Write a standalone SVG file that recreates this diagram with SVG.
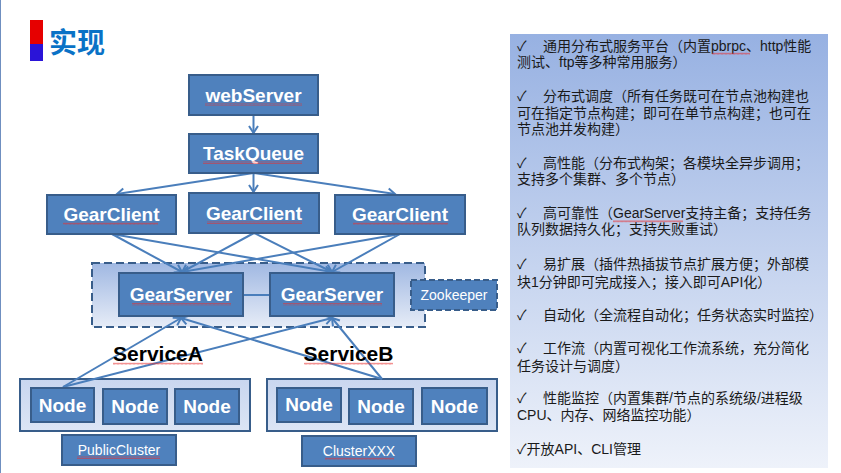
<svg xmlns="http://www.w3.org/2000/svg" width="841" height="473" viewBox="0 0 841 473">
<defs>
  <linearGradient id="gPanel" x1="0" y1="0" x2="0" y2="1">
    <stop offset="0" stop-color="#97B1E2"/>
    <stop offset="1" stop-color="#EEF2FA"/>
  </linearGradient>
  <linearGradient id="gGroup" x1="0" y1="0" x2="0" y2="1">
    <stop offset="0" stop-color="#A0B8E2"/>
    <stop offset="1" stop-color="#E6ECF7"/>
  </linearGradient>
  <linearGradient id="gCluster" x1="0" y1="0" x2="0" y2="1">
    <stop offset="0" stop-color="#C9D6EF"/>
    <stop offset="1" stop-color="#DCE5F5"/>
  </linearGradient>
  <pattern id="squig" width="4" height="2.5" patternUnits="userSpaceOnUse">
    <path d="M0,2 L1,0.5 L2,2 L3,0.5 L4,2" fill="none" stroke="#E83030" stroke-width="0.6"/>
  </pattern>
  <marker id="arr" markerWidth="12" markerHeight="12" refX="9" refY="6" orient="auto" markerUnits="userSpaceOnUse">
    <path d="M2,1.5 L9,6 L2,10.5" fill="none" stroke="#4A7EBB" stroke-width="2"/>
  </marker>
</defs>
<style>
  .box { fill: #4F81BD; stroke: #385D8A; stroke-width: 2; }
  .lbl { font-family: "Liberation Sans", Arial, sans-serif; font-weight: bold; font-size: 19px; fill: #FFFFFF; text-anchor: middle; }
  .small { font-family: "Liberation Sans", Arial, sans-serif; font-size: 14px; fill: #FFFFFF; text-anchor: middle; }
  .svc { font-family: "Liberation Sans", Arial, sans-serif; font-weight: bold; font-size: 21px; fill: #000000; text-anchor: middle; }
  .conn { stroke: #4A7EBB; stroke-width: 2; fill: none; }
  .arrow { marker-end: url(#arr); }
  .sq { fill: url(#squig); }
  .ptxt { font-family: "Liberation Sans", "Noto Sans CJK SC", sans-serif; font-size: 14px; fill: #1A1A1A; }
</style>

<rect width="841" height="473" fill="#FFFFFF"/>
<line x1="0.5" y1="0" x2="0.5" y2="473" stroke="#6F8FC0" stroke-width="1"/>

<g id="title">
  <rect x="30" y="20" width="13" height="24" fill="#E60000"/>
  <rect x="30" y="44" width="13" height="17" fill="#2A14D8"/>
  <text x="49" y="53" font-family="Noto Sans CJK SC, sans-serif" font-weight="bold" font-size="28" fill="#0A72C6">实现</text>
</g>

<g id="group-gearserver">
  <rect x="92" y="263" width="333" height="64" fill="url(#gGroup)" stroke="#385D8A" stroke-width="2" stroke-dasharray="8,4"/>
</g>
<g id="cluster-public">
  <rect x="20" y="379" width="230" height="52" fill="url(#gCluster)" stroke="#385D8A" stroke-width="2"/>
</g>
<g id="cluster-xxx">
  <rect x="267" y="379" width="230" height="52" fill="url(#gCluster)" stroke="#385D8A" stroke-width="2"/>
</g>

<g id="connectors">
  <line class="conn arrow" x1="253.5" y1="115" x2="253.5" y2="133"/>
  <line class="conn arrow" x1="253.5" y1="173" x2="253.5" y2="192"/>
  <line class="conn arrow" x1="253.5" y1="173" x2="117" y2="194"/>
  <line class="conn arrow" x1="253.5" y1="173" x2="395" y2="194"/>
  <line class="conn arrow" x1="112" y1="234" x2="182" y2="272"/>
  <line class="conn arrow" x1="112" y1="234" x2="332" y2="272"/>
  <line class="conn arrow" x1="254" y1="233" x2="182" y2="272"/>
  <line class="conn arrow" x1="254" y1="233" x2="332" y2="272"/>
  <line class="conn arrow" x1="400" y1="234" x2="182" y2="272"/>
  <line class="conn arrow" x1="400" y1="234" x2="332" y2="272"/>
  <line class="conn" x1="243" y1="295" x2="270" y2="295"/>
  <line class="conn arrow" x1="63" y1="387" x2="181" y2="318"/>
  <line class="conn arrow" x1="63" y1="387" x2="332" y2="318"/>
  <line class="conn arrow" x1="382" y1="379" x2="181" y2="318"/>
  <line class="conn arrow" x1="382" y1="379" x2="332" y2="318"/>
</g>

<g id="webServer">
  <rect class="box" x="189" y="75" width="129" height="40"/>
  <text class="lbl" x="253.5" y="102">webServer</text>
  <rect class="sq" x="205" y="103.5" width="97" height="2.5"/>
</g>
<g id="TaskQueue">
  <rect class="box" x="189" y="134" width="129" height="39"/>
  <text class="lbl" x="253.5" y="160">TaskQueue</text>
  <rect class="sq" x="203" y="161.5" width="99" height="2.5"/>
</g>
<g id="GearClient1">
  <rect class="box" x="47" y="195" width="129" height="39"/>
  <text class="lbl" x="111.5" y="221">GearClient</text>
  <rect class="sq" x="63" y="222.5" width="95" height="2.5"/>
</g>
<g id="GearClient2">
  <rect class="box" x="189" y="193" width="130" height="40"/>
  <text class="lbl" x="254" y="220">GearClient</text>
  <rect class="sq" x="207" y="221.5" width="95" height="2.5"/>
</g>
<g id="GearClient3">
  <rect class="box" x="335" y="195" width="130" height="39"/>
  <text class="lbl" x="400" y="221">GearClient</text>
  <rect class="sq" x="353" y="222.5" width="95" height="2.5"/>
</g>
<g id="GearServer1">
  <rect class="box" x="119" y="273" width="124" height="43"/>
  <text class="lbl" x="181" y="301">GearServer</text>
  <rect class="sq" x="132" y="303" width="99" height="2.5"/>
</g>
<g id="GearServer2">
  <rect class="box" x="270" y="273" width="124" height="43"/>
  <text class="lbl" x="332" y="301">GearServer</text>
  <rect class="sq" x="283" y="303" width="99" height="2.5"/>
</g>
<g id="Zookeeper">
  <rect x="411" y="280" width="86" height="30" fill="#4F81BD" stroke="#385D8A" stroke-width="2" stroke-dasharray="6,3"/>
  <text class="small" x="454" y="300">Zookeeper</text>
</g>

<g id="ServiceA">
  <text class="svc" x="158" y="361">ServiceA</text>
  <rect class="sq" x="113" y="362.5" width="90" height="2.5"/>
</g>
<g id="ServiceB">
  <text class="svc" x="348.5" y="361">ServiceB</text>
  <rect class="sq" x="304" y="362.5" width="89" height="2.5"/>
</g>

<g id="NodeA1"><rect class="box" x="31" y="388" width="63" height="34"/><text class="lbl" x="62.5" y="412">Node</text></g>
<g id="NodeA2"><rect class="box" x="103" y="389" width="64" height="35"/><text class="lbl" x="135" y="413">Node</text></g>
<g id="NodeA3"><rect class="box" x="175" y="389" width="64" height="35"/><text class="lbl" x="207" y="413">Node</text></g>
<g id="NodeB1"><rect class="box" x="277" y="388" width="64" height="34"/><text class="lbl" x="309" y="411">Node</text></g>
<g id="NodeB2"><rect class="box" x="349" y="389" width="64" height="35"/><text class="lbl" x="381" y="413">Node</text></g>
<g id="NodeB3"><rect class="box" x="422" y="388" width="65" height="36"/><text class="lbl" x="454.5" y="413">Node</text></g>

<g id="PublicCluster">
  <rect class="box" x="62" y="435" width="114" height="30"/>
  <text class="small" x="119" y="455">PublicCluster</text>
  <rect class="sq" x="77" y="456.5" width="83" height="2.5"/>
</g>
<g id="ClusterXXX">
  <rect class="box" x="302" y="436" width="114" height="30"/>
  <text class="small" x="359" y="456">ClusterXXX</text>
  <rect class="sq" x="325" y="457.5" width="69" height="2.5"/>
</g>

<g id="feature-panel">
  <rect x="510" y="34" width="318" height="434" fill="url(#gPanel)"/>
  <text class="ptxt"><tspan x="517" y="51">✓</tspan><tspan x="543" y="51">通用分布式服务平台（内置pbrpc、http性能</tspan><tspan x="517" y="67">测试、ftp等多种常用服务）</tspan></text>
  <text class="ptxt"><tspan x="517" y="101">✓</tspan><tspan x="543" y="101">分布式调度（所有任务既可在节点池构建也</tspan><tspan x="517" y="118">可在指定节点构建；即可在单节点构建；也可在</tspan><tspan x="517" y="134">节点池并发构建）</tspan></text>
  <text class="ptxt"><tspan x="517" y="168">✓</tspan><tspan x="543" y="168">高性能（分布式构架；各模块全异步调用；</tspan><tspan x="517" y="184">支持多个集群、多个节点）</tspan></text>
  <text class="ptxt"><tspan x="517" y="218">✓</tspan><tspan x="543" y="218">高可靠性（GearServer支持主备；支持任务</tspan><tspan x="517" y="234">队列数据持久化；支持失败重试）</tspan></text>
  <text class="ptxt"><tspan x="517" y="269">✓</tspan><tspan x="543" y="269">易扩展（插件热插拔节点扩展方便；外部模</tspan><tspan x="517" y="287">块1分钟即可完成接入；接入即可API化）</tspan></text>
  <text class="ptxt"><tspan x="517" y="320">✓</tspan><tspan x="543" y="320">自动化（全流程自动化；任务状态实时监控）</tspan></text>
  <text class="ptxt"><tspan x="517" y="353">✓</tspan><tspan x="543" y="353">工作流（内置可视化工作流系统，充分简化</tspan><tspan x="517" y="371">任务设计与调度）</tspan></text>
  <text class="ptxt"><tspan x="517" y="403">✓</tspan><tspan x="543" y="403">性能监控（内置集群/节点的系统级/进程级</tspan><tspan x="517" y="420">CPU、内存、网络监控功能）</tspan></text>
  <text class="ptxt" x="517" y="454">✓开放API、CLI管理</text>
  <rect class="sq" x="712" y="52.5" width="38" height="2.5"/>
  <rect class="sq" x="613" y="220" width="70" height="2.5"/>
</g>
</svg>
